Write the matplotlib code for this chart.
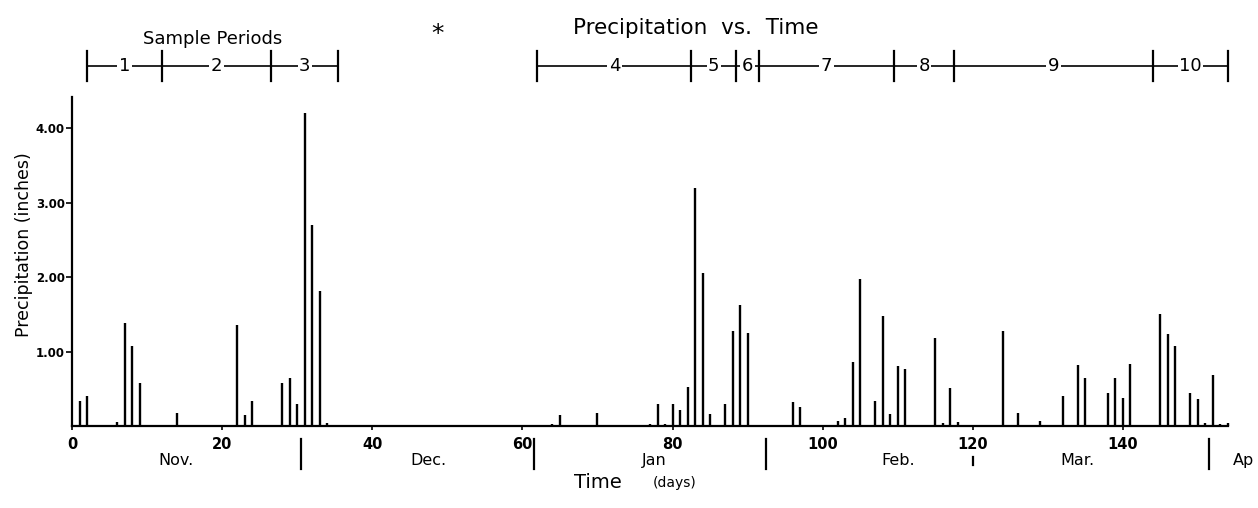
import numpy as np
import matplotlib.pyplot as plt
from matplotlib.transforms import blended_transform_factory

plt.rcParams['font.family'] = ['DejaVu Sans']

# daily precipitation (inches), day 1 = Nov 1
days = [1, 2, 6, 7, 8, 9, 10, 14, 22, 23, 24, 28, 29, 30, 31, 32, 33, 34,
        64, 65, 70, 77, 78, 79, 80, 81, 82, 83, 84, 85, 87, 88, 89, 90, 96, 97,
        102, 103, 104, 105, 107, 108, 109, 110, 111, 115, 116, 117, 118, 120,
        124, 126, 129, 132, 134, 135, 138, 139, 140, 141, 145, 146, 147,
        149, 150, 151, 152, 153, 154]
precip = [0.33, 0.40, 0.05, 1.38, 1.07, 0.58, 0.02, 0.17, 1.36, 0.15, 0.34,
          0.58, 0.64, 0.29, 4.20, 2.70, 1.81, 0.04,
          0.03, 0.15, 0.17, 0.03, 0.29, 0.03, 0.30, 0.21, 0.53, 3.20, 2.05,
          0.16, 0.29, 1.27, 1.62, 1.25, 0.32, 0.25,
          0.07, 0.11, 0.86, 1.98, 0.34, 1.48, 0.16, 0.81, 0.77, 1.18, 0.04,
          0.51, 0.05, 0.02, 1.28, 0.17, 0.07, 0.40, 0.82, 0.65, 0.45, 0.64,
          0.37, 0.83, 1.50, 1.24, 1.08, 0.44, 0.36, 0.04, 0.68, 0.03, 0.04]

# sample periods
period_a = [2, 12, 26.5, 35.5]
period_b = [62, 82.5, 88.5, 91.5, 109.5, 117.5, 144, 154]
period_labels = ['1', '2', '3', '4', '5', '6', '7', '8', '9', '10']

# months
month_lines = [30.5, 61.5, 92.5, 151.5]
mar_mark = 120
month_names = ['Nov.', 'Dec.', 'Jan', 'Feb.', 'Mar.', 'Ap']
month_pos = [13.8, 47.5, 77.5, 110, 134, 156]

xticks = [0, 20, 40, 60, 80, 100, 120, 140]
yticks = [1, 2, 3, 4]

fig = plt.figure(figsize=(12.58, 5.08), dpi=100)
ax = fig.add_axes([72 / 1258, 82 / 508, 1156 / 1258, 329 / 508])

ax.vlines(days, 0, precip, color='k', lw=1.7, clip_on=False)

ax.set_xlim(0, 154)
ax.set_ylim(0, 4.42)
for s in ['top', 'right']:
    ax.spines[s].set_visible(False)
ax.spines['left'].set_linewidth(1.6)
ax.spines['bottom'].set_linewidth(1.6)

ax.set_xticks(xticks)
ax.set_xticklabels([str(t) for t in xticks], fontsize=10.5, fontweight='bold')
ax.tick_params(axis='x', length=3, width=1.2, pad=5)
ax.set_yticks(yticks)
ax.set_yticklabels(['%.2f' % t for t in yticks], fontsize=8.5, fontweight='bold')
ax.tick_params(axis='y', length=4, width=1.2, pad=1)

trans = blended_transform_factory(ax.transData, ax.transAxes)

# month separators below the axis
for m in month_lines:
    ax.plot([m, m], [-0.04, -0.13], color='k', lw=1.6, transform=trans, clip_on=False)
ax.plot([mar_mark, mar_mark], [-0.095, -0.12], color='k', lw=1.6, transform=trans, clip_on=False)
for name, p in zip(month_names, month_pos):
    ax.text(p, -0.105, name, transform=trans, ha='center', va='center', fontsize=11.5)

fig.text(0.475, 0.05, 'Time', ha='center', va='center', fontsize=14)
fig.text(0.536, 0.05, '(days)', ha='center', va='center', fontsize=10)
fig.text(0.019, 0.518, 'Precipitation (inches)', rotation=90, ha='center', va='center', fontsize=12.5)
fig.text(0.553, 0.945, 'Precipitation  vs.  Time', ha='center', va='center', fontsize=15.5)

# sample period bracket
yb = 1.094
for bounds, labels in [(period_a, period_labels[:3]), (period_b, period_labels[3:])]:
    ax.plot([bounds[0], bounds[-1]], [yb, yb], color='k', lw=1.2, transform=trans, clip_on=False)
    for b in bounds:
        ax.plot([b, b], [yb - 0.045, yb + 0.045], color='k', lw=1.6, transform=trans, clip_on=False)
    for i, lab in enumerate(labels):
        mid = (bounds[i] + bounds[i + 1]) / 2
        ax.text(mid, yb, lab, transform=trans, ha='center', va='center', fontsize=13,
                bbox=dict(facecolor='white', edgecolor='none', pad=1))

ax.text((period_a[0] + period_a[-1]) / 2, 1.175, 'Sample Periods', transform=trans,
        ha='center', va='center', fontsize=13)
ax.text((period_a[-1] + period_b[0]) / 2, 1.19, '*', transform=trans,
        ha='center', va='center', fontsize=18)

fig.savefig('out.png', dpi=100, facecolor='white')
